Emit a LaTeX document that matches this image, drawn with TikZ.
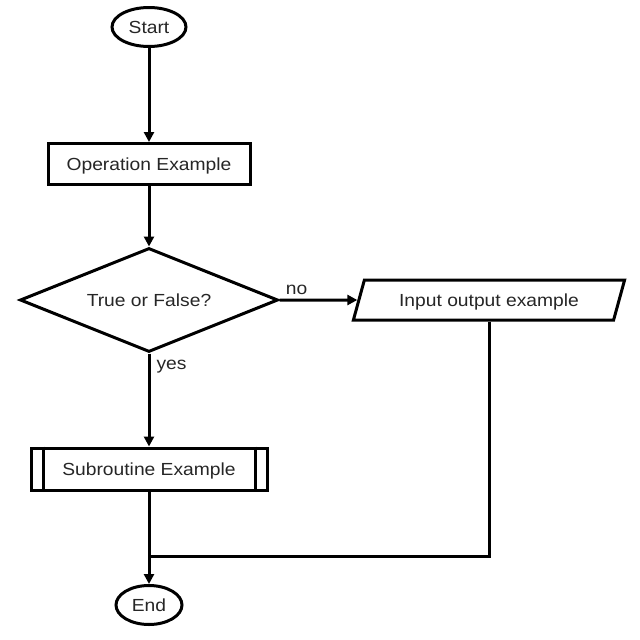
\documentclass[tikz,border=0pt]{standalone}
\usepackage{fontspec}
\setmainfont{Liberation Sans}[FakeStretch=1.1]
\usetikzlibrary{shapes.geometric,arrows.meta}
\begin{document}
\begin{tikzpicture}[x=1pt,y=-1pt,
  every node/.style={font=\fontsize{17.5}{20}\selectfont, text=black!85},
  base/.style={draw=black, line width=3pt, fill=white, inner sep=0pt, text depth=0pt},
  term/.style={base, ellipse, minimum width=74pt, minimum height=39pt},
  proc/.style={base, rectangle, minimum width=202pt, minimum height=41pt},
  decis/.style={base, diamond, aspect=2.5, minimum width=258pt, minimum height=104pt},
  iobox/.style={base, trapezium, trapezium left angle=58, trapezium right angle=122,
    trapezium stretches=true, minimum width=272pt, minimum height=40pt},
  subr/.style={base, rectangle, minimum width=236pt, minimum height=42pt},
  conn/.style={line width=3pt, -{Triangle[length=10pt,width=10pt]}},
  plain/.style={line width=3pt},
  lbl/.style={font=\fontsize{17.5}{20}\selectfont}
]
\useasboundingbox (0,0) rectangle (640,640);
\node[term] (start) at (149,27) {Start};
\node[proc] (op) at (149,164) {Operation Example};
\node[decis] (dec) at (149,300) {True or False?};
\node[iobox] (io) at (489,300) {Input output example};
\node[subr] (sub) at (149,469) {Subroutine Example};
\node[term, minimum width=66pt] (end) at (149,605) {End};
\draw[plain] ([xshift=13.5pt]sub.north west) -- ([xshift=13.5pt]sub.south west);
\draw[plain] ([xshift=-13.5pt]sub.north east) -- ([xshift=-13.5pt]sub.south east);
\coordinate (join) at (149,556);
\draw[conn] (start) -- (op);
\draw[conn] (op) -- (dec);
\draw[conn] (dec.east) -- node[lbl, pos=0.22, above=1pt] (no) {no} (io.west);
\draw[conn] (dec.south) -- (sub.north);
\node[lbl, anchor=west] (yes) at (153,367) {yes};
\draw[conn] (sub.south) -- (end.north);
\draw[plain] (io.south) |- (join);
\end{tikzpicture}
\end{document}
